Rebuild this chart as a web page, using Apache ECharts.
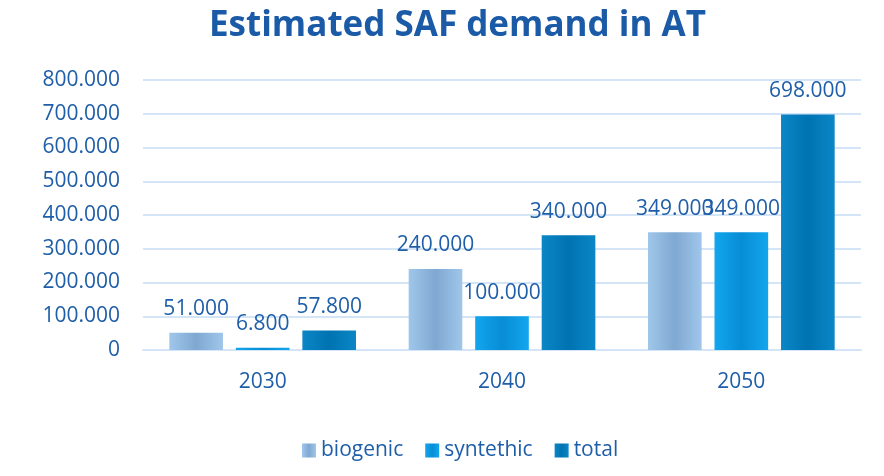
<!DOCTYPE html>
<html>
<head>
<meta charset="utf-8">
<script src="https://cdn.jsdelivr.net/npm/echarts@6/dist/echarts.min.js"></script>
<style>
  html, body { margin: 0; padding: 0; background: #fff; }
  #chart { width: 884px; height: 476px; }
</style>
</head>
<body>
<div id="chart"></div>
<script>
const years = ['2030', '2040', '2050'];
const biogenic = [51000, 240000, 349000];
const synthetic = [6800, 100000, 349000];
const total = [57800, 340000, 698000];

const textColor = '#1f5ea8';
const font = 'Open Sans';

// 1.234.567 style
const fmt = v => String(v).replace(/\B(?=(\d{3})+(?!\d))/g, '.');

// lighter at the edges, darker in the middle
const shade = (inner, outer) => new echarts.graphic.LinearGradient(0, 0, 1, 0, [
  { offset: 0, color: outer },
  { offset: 0.5, color: inner },
  { offset: 1, color: outer }
]);

const barLabel = {
  show: true,
  position: 'top',
  distance: 13,
  color: textColor,
  fontFamily: font,
  fontSize: 21,
  formatter: p => fmt(p.value)
};

const chart = echarts.init(document.getElementById('chart'));

chart.setOption({
  animation: false,
  title: {
    text: 'Estimated SAF demand in AT',
    left: 204,
    top: 4,
    textStyle: { color: '#1a5aa6', fontFamily: font, fontWeight: 'bold', fontSize: 35 }
  },
  grid: { left: 143, right: 23, top: 80, bottom: 126 },
  legend: {
    bottom: 10,
    left: 297,
    icon: 'rect',
    itemWidth: 14,
    itemHeight: 14,
    itemGap: 22,
    textStyle: { color: textColor, fontFamily: font, fontSize: 21 },
    data: ['biogenic', 'syntethic', 'total']
  },
  xAxis: {
    type: 'category',
    data: years,
    axisLine: { lineStyle: { color: '#d3e5f7', width: 2 } },
    axisTick: { show: false },
    axisLabel: { color: textColor, fontFamily: font, fontSize: 21, margin: 22 }
  },
  yAxis: {
    type: 'value',
    min: 0,
    max: 800000,
    interval: 100000,
    axisLine: { show: false },
    axisTick: { show: false },
    splitLine: { lineStyle: { color: '#d3e5f7', width: 2 } },
    axisLabel: { color: textColor, fontFamily: font, fontSize: 21, margin: 23, formatter: fmt }
  },
  series: [
    {
      name: 'biogenic',
      type: 'bar',
      data: biogenic,
      barGap: '24%',
      barCategoryGap: '22%',
      itemStyle: { color: shade('#7fa8d2', '#a0c6ea') },
      label: barLabel
    },
    {
      name: 'syntethic',
      type: 'bar',
      data: synthetic,
      itemStyle: { color: shade('#078dd5', '#12a6ee') },
      label: barLabel
    },
    {
      name: 'total',
      type: 'bar',
      data: total,
      itemStyle: { color: shade('#0073b1', '#0b86c6') },
      label: barLabel
    }
  ]
});
</script>
</body>
</html>
